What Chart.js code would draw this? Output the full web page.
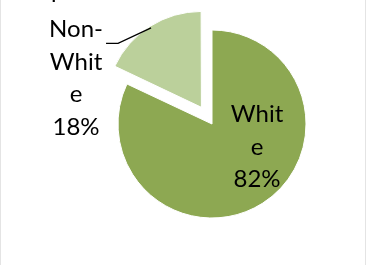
<!DOCTYPE html>
<html>
<head>
<meta charset="utf-8">
<script src="https://cdn.jsdelivr.net/npm/chart.js@4/dist/chart.umd.min.js"></script>
<style>
  body { margin: 0; background: #fff; }
  #wrap { width: 375px; height: 265px; }
</style>
</head>
<body>
<div id="wrap"><canvas id="chart-area" width="375" height="265"></canvas></div>
<script>
// chart data
const categories = ['White', 'Non-White'];
const shares = [82, 18];
const labelLines = [['Whit', 'e', '82%'], ['Non-', 'Whit', 'e', '18%']];
const sliceColors = ['#8da852', '#bbd09b'];
const explode = [0, 79];

const FONT = '24px Lato';
const LINE_H = 32.5;

// frame lines + the cut off title glyph
const framePlugin = {
    id: 'frame',
    beforeDraw(chart) {
        const ctx = chart.ctx;
        ctx.save();
        ctx.strokeStyle = '#e4e4e4';
        ctx.lineWidth = 1;
        ctx.beginPath();
        ctx.moveTo(0.5, 0); ctx.lineTo(0.5, 265);
        ctx.moveTo(365.5, 0); ctx.lineTo(365.5, 265);
        ctx.stroke();
        ctx.fillStyle = '#000';
        ctx.font = FONT;
        ctx.textAlign = 'left';
        ctx.textBaseline = 'alphabetic';
        ctx.fillText('p', 51, -2);
        ctx.restore();
    }
};

// slice labels (white one inside, non-white outside with leader line)
const labelPlugin = {
    id: 'sliceLabels',
    afterDatasetsDraw(chart) {
        const ctx = chart.ctx;
        const arcs = chart.getDatasetMeta(0).data;
        const cx = arcs[0].x, cy = arcs[0].y;
        ctx.save();
        ctx.fillStyle = '#000';
        ctx.font = FONT;
        ctx.textAlign = 'center';
        ctx.textBaseline = 'alphabetic';

        // White
        labelLines[0].forEach(function(t, i) {
            ctx.fillText(t, cx + 45, cy - 2 + i * LINE_H);
        });

        // Non-White
        labelLines[1].forEach(function(t, i) {
            ctx.fillText(t, cx - 136, cy - 87 + i * LINE_H);
        });

        const a = arcs[1];
        const mid = (a.startAngle + a.endAngle) / 2;
        const shift = explode[1] / 4 + a.outerRadius;
        const px = a.x + Math.cos(mid) * shift;
        const py = a.y + Math.sin(mid) * shift;
        ctx.strokeStyle = '#000';
        ctx.lineWidth = 1.3;
        ctx.beginPath();
        ctx.moveTo(px, py);
        ctx.lineTo(px - 33, py + 15.5);
        ctx.lineTo(px - 45, py + 15.5);
        ctx.stroke();
        ctx.restore();
    }
};

const config = {
    type: 'pie',
    data: {
        labels: categories,
        datasets: [{
            data: shares,
            backgroundColor: sliceColors,
            borderColor: '#fff',
            borderWidth: 1,
            offset: explode,
            hoverOffset: 0
        }]
    },
    options: {
        responsive: false,
        animation: false,
        radius: 94,
        layout: { padding: { left: 49, right: 0, top: 0, bottom: 17 } },
        plugins: {
            legend: { display: false },
            tooltip: { enabled: false },
            title: { display: false }
        },
        events: []
    },
    plugins: [framePlugin, labelPlugin]
};

window.onload = function() {
    const ctx = document.getElementById('chart-area').getContext('2d');
    window.myPie = new Chart(ctx, config);
};
</script>
</body>
</html>
